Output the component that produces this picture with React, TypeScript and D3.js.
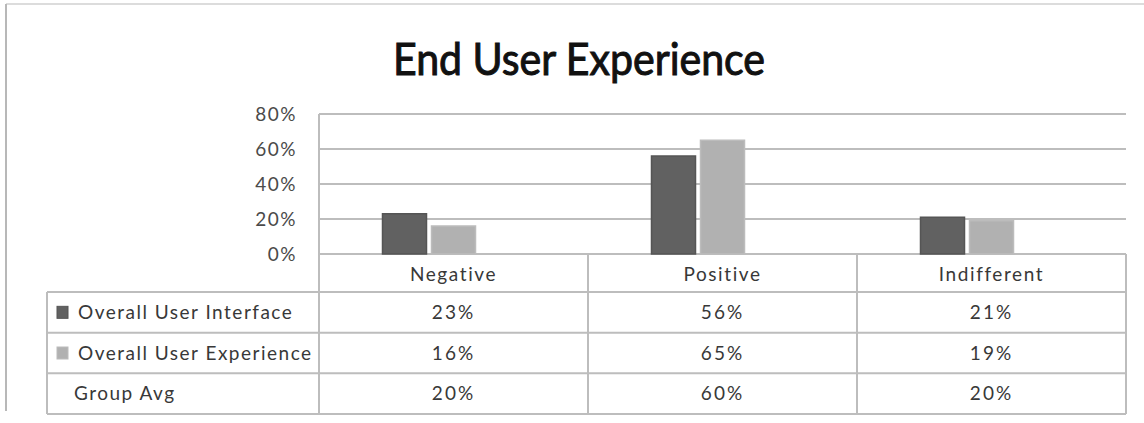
import React from "react";
import * as d3 from "d3";

const categories = ["Negative", "Positive", "Indifferent"];
const seriesNames = ["Overall User Interface", "Overall User Experience", "Group Avg"];
const uiValues = [23, 56, 21];
const uxValues = [16, 65, 19];
const avgValues = [20, 60, 20];
const yTicks = [0, 20, 40, 60, 80];

const seriesValues = [uiValues, uxValues, avgValues];
const seriesFill = ["#616161", "#b1b1b1", "none"];
const seriesStroke = ["#555555", "#bcbcbc", "none"];

const W = 1144;
const H = 423;
const plotL = 319;
const plotR = 1126;
const plotT = 114;
const plotB = 254;
const tableL = 47;
const tableB = 414;
const headerB = 292;
const gridColor = "#bdbdbd";
const font = "Lato, 'Open Sans', sans-serif";
const textColor = "#383838";

export default function App() {
  const x = d3.scaleBand<string>().domain(categories).range([plotL, plotR]);
  const bw = x.bandwidth();
  const groupW = 142;
  const xs = d3
    .scaleBand<string>()
    .domain(seriesNames)
    .range([(bw - groupW) / 2, (bw + groupW) / 2])
    .paddingInner(0.102);
  const y = d3.scaleLinear().domain([0, 80]).range([plotB, plotT]);
  const rowH = (tableB - headerB) / seriesNames.length;
  const rowTop = (i: number) => headerB + i * rowH;

  return (
    <svg
      width={W}
      height={H}
      style={{ position: "absolute", left: 0, top: 0, background: "#fff" }}
      fontFamily={font}
    >
      {/* outer frame */}
      <line x1={6} x2={W} y1={4} y2={4} stroke="#dcdcdc" strokeWidth={2} />
      <line x1={6} x2={6} y1={4} y2={411} stroke="#b8b8b8" strokeWidth={2} />

      {/* title */}
      <text
        x={393}
        y={75}
        fontSize={44}
        fontWeight={400}
        fill="#111"
        stroke="#111"
        strokeWidth={1}
        textLength={372}
        lengthAdjust="spacingAndGlyphs"
      >
        End User Experience
      </text>

      {/* gridlines */}
      {yTicks.map((t) => (
        <line key={t} x1={plotL} x2={plotR} y1={y(t)} y2={y(t)} stroke={gridColor} strokeWidth={2} />
      ))}
      {yTicks.map((t) => (
        <text
          key={"l" + t}
          x={297}
          y={y(t)}
          dy="0.35em"
          textAnchor="end"
          fontSize={19}
          letterSpacing={1.5}
          fill="#4a4a4a"
        >
          {t}%
        </text>
      ))}

      {/* bars */}
      {categories.map((c, ci) =>
        seriesNames.map((s, si) => (
          <rect
            key={c + s}
            x={(x(c) as number) + (xs(s) as number)}
            y={y(seriesValues[si][ci])}
            width={xs.bandwidth()}
            height={plotB - y(seriesValues[si][ci])}
            fill={seriesFill[si]}
            stroke={seriesStroke[si]}
            strokeWidth={1.5}
          />
        ))
      )}

      {/* table lines */}
      <line x1={plotL} x2={plotL} y1={plotT} y2={tableB} stroke={gridColor} strokeWidth={2} />
      {categories.map((c) => (
        <line
          key={"v" + c}
          x1={(x(c) as number) + bw}
          x2={(x(c) as number) + bw}
          y1={plotB}
          y2={tableB}
          stroke={gridColor}
          strokeWidth={2}
        />
      ))}
      <line x1={tableL} x2={tableL} y1={headerB} y2={tableB} stroke={gridColor} strokeWidth={2} />
      {seriesNames.map((s, i) => (
        <line key={"h" + s} x1={tableL} x2={plotR} y1={rowTop(i)} y2={rowTop(i)} stroke={gridColor} strokeWidth={2} />
      ))}
      <line x1={tableL} x2={plotR} y1={tableB} y2={tableB} stroke={gridColor} strokeWidth={2} />

      {/* header labels */}
      {categories.map((c) => (
        <text
          key={"c" + c}
          x={(x(c) as number) + bw / 2}
          y={(plotB + headerB) / 2 + 1}
          dy="0.35em"
          textAnchor="middle"
          fontSize={19}
          letterSpacing={1.6}
          fill={textColor}
        >
          {c}
        </text>
      ))}

      {/* row labels and values */}
      {seriesNames.map((s, si) => (
        <g key={"r" + s}>
          {seriesFill[si] !== "none" && (
            <rect
              x={57}
              y={rowTop(si) + rowH / 2 - 6}
              width={11}
              height={12}
              fill={seriesFill[si]}
              stroke={seriesStroke[si]}
            />
          )}
          <text
            x={seriesFill[si] !== "none" ? 78 : 74}
            y={rowTop(si) + rowH / 2}
            dy="0.35em"
            fontSize={19}
            letterSpacing={1.5}
            fill={textColor}
          >
            {s}
          </text>
          {categories.map((c, ci) => (
            <text
              key={"v" + c}
              x={(x(c) as number) + bw / 2}
              y={rowTop(si) + rowH / 2}
              dy="0.35em"
              textAnchor="middle"
              fontSize={19}
              letterSpacing={2}
              fill={textColor}
            >
              {seriesValues[si][ci]}%
            </text>
          ))}
        </g>
      ))}
    </svg>
  );
}
